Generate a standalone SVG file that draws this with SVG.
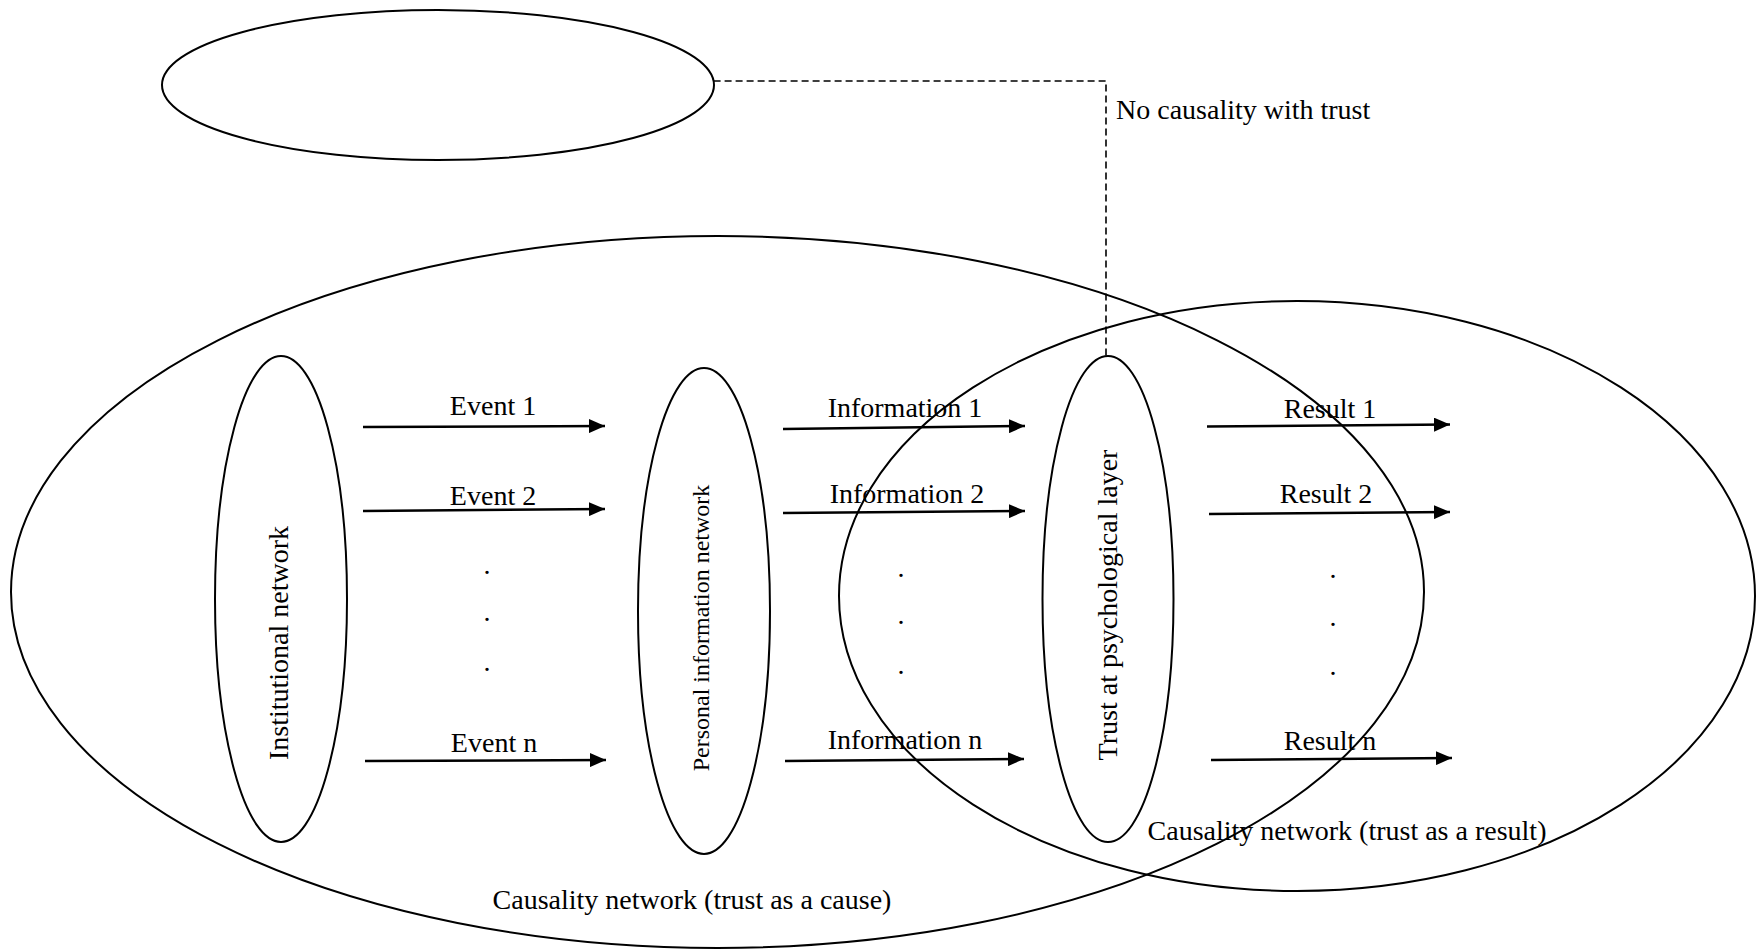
<svg xmlns="http://www.w3.org/2000/svg" width="1756" height="949" viewBox="0 0 1756 949">
<style>
.sh{fill:none;stroke:#000;stroke-width:2}
.ar{stroke:#000;stroke-width:2.5;fill:none;marker-end:url(#ah)}
.dash{fill:none;stroke:#000;stroke-width:1.6;stroke-dasharray:7 4}
text{font-family:"Liberation Serif","Times New Roman",serif;font-size:28px;fill:#000}
.m{text-anchor:middle}
.sm{font-size:24px}
</style>
<defs>
<marker id="ah" markerUnits="userSpaceOnUse" viewBox="0 0 16 14" refX="16" refY="7" markerWidth="16" markerHeight="14" orient="auto">
<path d="M0,0 L16,7 L0,14 z" fill="#000"/>
</marker>
</defs>
<rect width="1756" height="949" fill="#fff"/>
<g id="cause-network">
<ellipse class="sh" cx="717.5" cy="592" rx="706.5" ry="356"/>
<text class="m" x="692" y="909">Causality network (trust as a cause)</text>
</g>
<g id="result-network">
<ellipse class="sh" cx="1297" cy="596" rx="458" ry="295"/>
<text class="m" x="1347" y="840">Causality network (trust as a result)</text>
</g>
<g id="no-causality">
<ellipse class="sh" cx="438" cy="85" rx="276" ry="75"/>
</g>
<g id="institutional">
<ellipse class="sh" cx="281" cy="599" rx="66" ry="243"/>
<text class="m" x="288" y="643" transform="rotate(-90 288 643)">Institutional network</text>
</g>
<g id="personal">
<ellipse class="sh" cx="704" cy="611" rx="66" ry="243"/>
<text class="m sm" x="709" y="628" transform="rotate(-90 709 628)">Personal information network</text>
</g>
<g id="trust">
<ellipse class="sh" cx="1108" cy="599" rx="65.5" ry="243"/>
<text class="m" x="1117" y="605" transform="rotate(-90 1117 605)">Trust at psychological layer</text>
</g>
<g id="connectors">
<path class="dash" d="M713.6,81 H1106 V356"/>
<line class="ar" x1="363" y1="427" x2="605" y2="426"/>
<line class="ar" x1="363" y1="511" x2="605" y2="509"/>
<line class="ar" x1="365" y1="761" x2="606" y2="760"/>
<line class="ar" x1="783" y1="429" x2="1025" y2="426"/>
<line class="ar" x1="783" y1="513" x2="1025" y2="511"/>
<line class="ar" x1="785" y1="761" x2="1024" y2="759"/>
<line class="ar" x1="1207" y1="426.5" x2="1450" y2="424.5"/>
<line class="ar" x1="1209" y1="514" x2="1450" y2="512"/>
<line class="ar" x1="1211" y1="760" x2="1452" y2="758"/>
</g>
<g id="labels">
<text x="1116" y="119">No causality with trust</text>
<text class="m" x="493" y="415">Event 1</text>
<text class="m" x="493" y="505">Event 2</text>
<text class="m" x="494" y="752">Event n</text>
<text class="m" x="905" y="417">Information 1</text>
<text class="m" x="907" y="503">Information 2</text>
<text class="m" x="905" y="749">Information n</text>
<text class="m" x="1330" y="418">Result 1</text>
<text class="m" x="1326" y="503">Result 2</text>
<text class="m" x="1330" y="750">Result n</text>
<text class="m" x="487" y="574">.</text>
<text class="m" x="487" y="621">.</text>
<text class="m" x="487" y="671">.</text>
<text class="m" x="901" y="577">.</text>
<text class="m" x="901" y="624">.</text>
<text class="m" x="901" y="674">.</text>
<text class="m" x="1333" y="578">.</text>
<text class="m" x="1333" y="626">.</text>
<text class="m" x="1333" y="675">.</text>
</g>
</svg>
